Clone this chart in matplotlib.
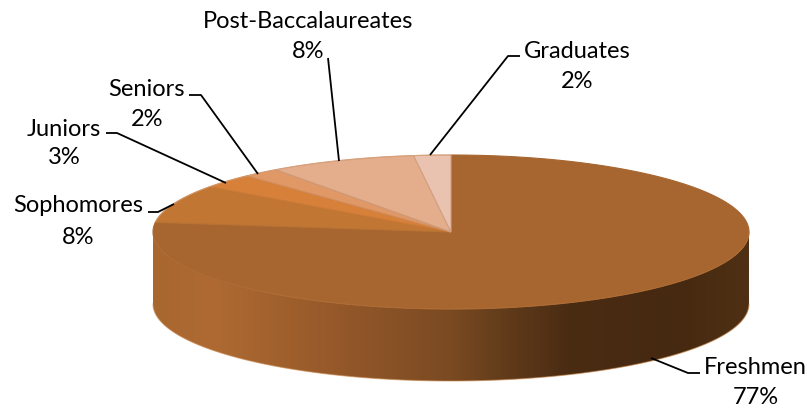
#!/usr/bin/env python3

"""
3D looking pie of students by class level, drawn on a pixel sized axes
"""

import numpy as np
import matplotlib
matplotlib.use('Agg')
import matplotlib.pyplot as plt
from matplotlib.patches import Polygon
from matplotlib.colors import LinearSegmentedColormap

categories = ['Freshmen', 'Sophomores', 'Juniors', 'Seniors', 'Post-Baccalaureates', 'Graduates']
percents = [77, 8, 3, 2, 8, 2]
slice_colors = ['#A76630', '#C27634', '#D6803A', '#E09866', '#E4AE8D', '#EAC3B0']
edge_colors = ['#A76630', '#B87232', '#CC7A36', '#D08F5F', '#CF9A78', '#D2A084']

# ellipse of the top face, in pixels
CX, CY, RX, RY = 451, 232, 298, 77
DEPTH = 72

plt.rcParams['font.family'] = ['Lato', 'DejaVu Sans']

fig = plt.figure(figsize=(8.07, 4.08), dpi=100)
ax = fig.add_axes([0, 0, 1, 1])
ax.set_xlim(0, 807)
ax.set_ylim(408, 0)
ax.axis('off')


def rim(a0, a1, n=200):
    t = np.radians(np.linspace(a0, a1, n))
    return CX + RX * np.cos(t), CY - RY * np.sin(t)


# side wall, gradient clipped to the lower half of the cylinder
x, y = rim(180, 360)
wall = np.column_stack([np.r_[x, x[::-1]], np.r_[y, y[::-1] + DEPTH]])
wall_patch = Polygon(wall, closed=True, fc='none', ec='none')
ax.add_patch(wall_patch)
wall_cmap = LinearSegmentedColormap.from_list('wall', [
    (0.00, '#A96730'), (0.10, '#AE6A32'), (0.30, '#96592A'), (0.50, '#7A4A22'),
    (0.60, '#5F3A1A'), (0.70, '#4A2C13'), (0.88, '#452910'), (1.00, '#4F3014')])
img = ax.imshow(np.linspace(0, 1, 400).reshape(1, -1), cmap=wall_cmap, aspect='auto',
                extent=[CX - RX, CX + RX, CY + RY + DEPTH, CY], zorder=1)
img.set_clip_path(wall_patch)
ax.set_xlim(0, 807)
ax.set_ylim(408, 0)

# light rim along the bottom of the wall
bx, by = rim(180, 360)
ax.plot(bx, by + DEPTH, color='#C98A50', lw=0.8, alpha=0.6, zorder=2)

# top face, clockwise from twelve o'clock
start = 90.0
for pct, fc, ec in zip(percents, slice_colors, edge_colors):
    end = start - pct * 3.6
    x, y = rim(start, end)
    pts = np.column_stack([np.r_[CX, x], np.r_[CY, y]])
    ax.add_patch(Polygon(pts, closed=True, fc=fc, ec=ec, lw=0.8, zorder=3))
    start = end

# faint edges of the top face
x, y = rim(185, 360)
ax.plot(x, y, color='#B8733A', lw=0.8, alpha=0.4, zorder=4)
x, y = rim(172, 90)
ax.plot(x, y, color='#D9A27A', lw=0.8, alpha=0.7, zorder=4)

# leader lines
leaders = [
    ([700, 688, 651], [373, 373, 358]),
    ([148, 158, 174], [212, 212, 204]),
    ([106, 117, 226], [133, 133, 183]),
    ([189, 201, 258], [95, 95, 174]),
    ([328, 339], [58, 161]),
    ([520, 508, 430], [56, 56, 155]),
]
for lx, ly in leaders:
    ax.plot(lx, ly, color='black', lw=1.3, zorder=5, solid_capstyle='butt')

# labels, name above value
label_pos = [(755, 367, 756, 398), (78, 206, 78, 237), (64, 129, 64, 158),
             (146, 90, 147, 120), (308, 22, 308, 52), (577, 51, 577, 82)]
for name, pct, (nx, ny, vx, vy) in zip(categories, percents, label_pos):
    ax.text(nx, ny, name, fontsize=17, ha='center', va='center', color='black', zorder=6)
    ax.text(vx, vy, '%d%%' % pct, fontsize=17, ha='center', va='center', color='black', zorder=6)

fig.savefig('out.png', dpi=100)
